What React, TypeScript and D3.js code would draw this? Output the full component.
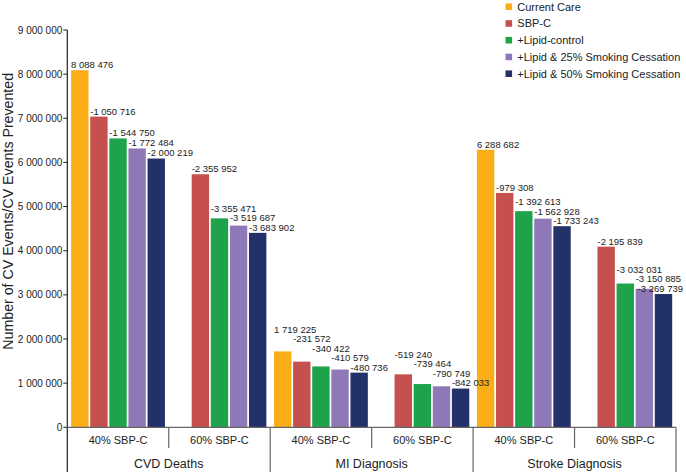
import React from "react";
import * as d3 from "d3";

const groups = ["CVD Deaths", "MI Diagnosis", "Stroke Diagnosis"];
const subgroups = ["40% SBP-C", "60% SBP-C"];
const series = [
  "Current Care",
  "SBP-C",
  "+Lipid-control",
  "+Lipid & 25% Smoking Cessation",
  "+Lipid & 50% Smoking Cessation",
];
const colors = ["#FBAE17", "#C5504D", "#1EA34A", "#8F78B7", "#233169"];
const currentCare = [8088476, 1719225, 6288682];
const deltas40 = [
  [-1050716, -1544750, -1772484, -2000219],
  [-231572, -340422, -410579, -480736],
  [-979308, -1392613, -1562928, -1733243],
];
const deltas60 = [
  [-2355952, -3355471, -3519687, -3683902],
  [-519240, -739464, -790749, -842033],
  [-2195839, -3032031, -3150885, -3269739],
];
const yTicks = [0, 1e6, 2e6, 3e6, 4e6, 5e6, 6e6, 7e6, 8e6, 9e6];

const W = 686;
const H = 475;
const left = 67.3;
const right = 676;
const y0 = 427.3;
const yTop = 30;
const FONT = "'Liberation Sans', Arial, sans-serif";
const LABEL_SIZE = 9.5;

const fmt = (v: number) => d3.format(",")(v).replace(/,/g, " ").replace("−", "-");
const textWidth = (s: string, size: number) =>
  s.split("").reduce((a, ch) => a + (ch === " " ? 0.278 : ch === "-" ? 0.333 : 0.556), 0) * size;

export default function App() {
  const cells: { g: number; s: number }[] = [];
  groups.forEach((_, g) => subgroups.forEach((_, s) => cells.push({ g, s })));
  const x0 = d3
    .scaleBand<number>()
    .domain(cells.map((_, i) => i))
    .range([left, right])
    .padding(0);
  const x1 = d3
    .scaleBand<number>()
    .domain(series.map((_, i) => i))
    .range([0, x0.bandwidth()])
    .paddingInner(0.09)
    .paddingOuter(0.2);
  const y = d3.scaleLinear().domain([0, 9e6]).range([y0, yTop]);

  type Bar = { x: number; top: number; value: number; label: string; color: string; ly?: number; lx?: number };
  const cellBars: Bar[][] = cells.map((c, ci) => {
    const bars: Bar[] = [];
    const base = currentCare[c.g];
    const deltas = c.s === 0 ? deltas40[c.g] : deltas60[c.g];
    if (c.s === 0) {
      bars.push({
        x: (x0(ci) as number) + (x1(0) as number),
        top: y(base),
        value: base,
        label: fmt(base),
        color: colors[0],
      });
    }
    deltas.forEach((d, k) => {
      const v = base + d;
      bars.push({
        x: (x0(ci) as number) + (x1(k + 1) as number),
        top: y(v),
        value: v,
        label: fmt(d),
        color: colors[k + 1],
      });
    });
    // label layout: avoid overlapping with the label of the next bar
    let next = Infinity;
    for (let i = bars.length - 1; i >= 0; i--) {
      const c0 = Math.min(bars[i].top - 5.5, next - 9.5);
      bars[i].ly = c0;
      next = c0;
      bars[i].lx = Math.min(bars[i].x, W - 3 - textWidth(bars[i].label, LABEL_SIZE));
    }
    return bars;
  });

  const bw = x1.bandwidth();

  return (
    <svg
      width={W}
      height={H}
      style={{ position: "fixed", left: 0, top: 0, background: "#fff" }}
      fontFamily={FONT}
    >
      <rect x={0} y={0} width={W} height={H} fill="#fff" />
      {/* bars */}
      {cellBars.map((bars, ci) => (
        <g key={ci}>
          {bars.map((b, i) => (
            <rect key={i} x={b.x} y={b.top} width={bw} height={y0 - b.top} fill={b.color} />
          ))}
        </g>
      ))}
      {/* bar labels */}
      {cellBars.map((bars, ci) => (
        <g key={"l" + ci}>
          {bars.map((b, i) => (
            <text key={i} x={b.lx} y={(b.ly as number) + 3.4} fontSize={LABEL_SIZE} fill="#222">
              {b.label}
            </text>
          ))}
        </g>
      ))}
      {/* y axis */}
      <line x1={left} x2={left} y1={yTop} y2={472} stroke="#222" strokeWidth={1.2} />
      {yTicks.map((t) => (
        <g key={t}>
          <line x1={left - 4} x2={left} y1={y(t)} y2={y(t)} stroke="#222" strokeWidth={1} />
          <text x={left - 5} y={y(t) + 3.5} fontSize={10} textAnchor="end" fill="#222">
            {fmt(t)}
          </text>
        </g>
      ))}
      <text
        transform={`translate(13,211.3) rotate(-90)`}
        textAnchor="middle"
        fontSize={14.2}
        fill="#222"
      >
        Number of CV Events/CV Events Prevented
      </text>
      {/* x axis frame */}
      <line x1={left} x2={right} y1={y0} y2={y0} stroke="#666" strokeWidth={1.2} />
      {cells.map((c, ci) => {
        const xs = x0(ci) as number;
        const xe = xs + x0.bandwidth();
        return (
          <g key={"x" + ci}>
            <text x={(xs + xe) / 2} y={444} fontSize={11} textAnchor="middle" fill="#222">
              {subgroups[c.s]}
            </text>
            {c.s === 0 && (
              <line x1={xe} x2={xe} y1={y0} y2={448} stroke="#666" strokeWidth={1.2} />
            )}
            {c.s === 1 && (
              <line x1={xe} x2={xe} y1={y0} y2={472} stroke="#666" strokeWidth={1.2} />
            )}
          </g>
        );
      })}
      {groups.map((g, gi) => {
        const xs = x0(gi * 2) as number;
        const xe = (x0(gi * 2 + 1) as number) + x0.bandwidth();
        return (
          <text key={g} x={(xs + xe) / 2} y={467.8} fontSize={12.5} textAnchor="middle" fill="#222">
            {g}
          </text>
        );
      })}
      {/* legend */}
      {series.map((s, i) => (
        <g key={s} transform={`translate(505.5,${6.7 + i * 16.75})`}>
          <rect x={0} y={-3.3} width={6.6} height={6.6} fill={colors[i]} />
          <text x={11.8} y={3.9} fontSize={11} fill="#222">
            {s}
          </text>
        </g>
      ))}
    </svg>
  );
}
